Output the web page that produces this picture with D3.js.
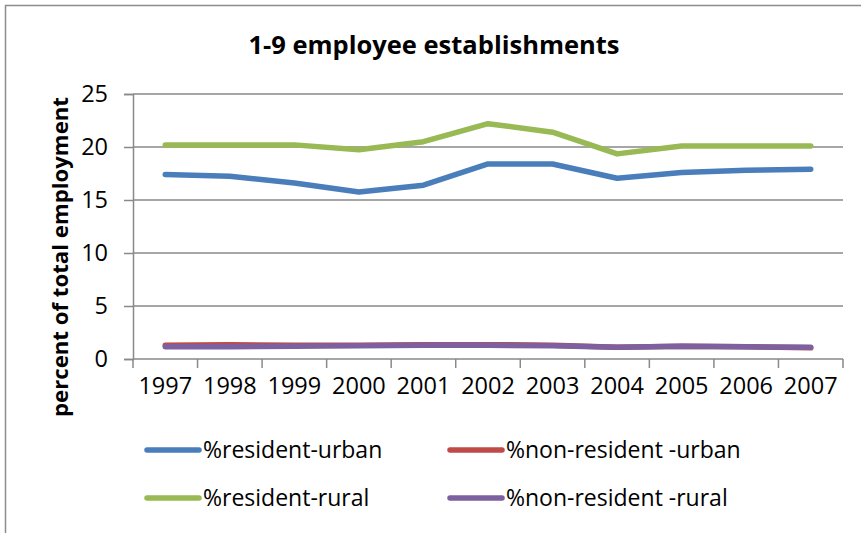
<!DOCTYPE html>
<html>
<head>
<meta charset="utf-8">
<script src="https://cdn.jsdelivr.net/npm/d3@7"></script>
<style>
  body { margin: 0; background: #fff; }
  svg text { font-family: "Open Sans", sans-serif; fill: #000; }
</style>
</head>
<body>
<div id="chart"></div>
<script>
// years along the x axis
const years = ["1997", "1998", "1999", "2000", "2001", "2002", "2003", "2004", "2005", "2006", "2007"];
const yTicks = [0, 5, 10, 15, 20, 25];

// series values (percent of total employment)
const residentUrban    = [17.4, 17.25, 16.6, 15.75, 16.4, 18.4, 18.4, 17.05, 17.6, 17.8, 17.9];
const nonResidentUrban = [1.3, 1.35, 1.3, 1.3, 1.35, 1.35, 1.3, 1.1, 1.2, 1.15, 1.05];
const residentRural    = [20.2, 20.2, 20.2, 19.75, 20.5, 22.2, 21.4, 19.35, 20.1, 20.1, 20.1];
const nonResidentRural = [1.15, 1.15, 1.2, 1.25, 1.3, 1.3, 1.25, 1.1, 1.2, 1.15, 1.1];

const seriesNames = ["%resident-urban", "%non-resident -urban", "%resident-rural", "%non-resident -rural"];
const seriesColors = ["#4a7ebb", "#be4b48", "#98b954", "#7d60a0"];
const seriesValues = [residentUrban, nonResidentUrban, residentRural, nonResidentRural];

const W = 861, H = 533;
const MARGIN = { TOP: 94, BOTTOM: 174, LEFT: 133, RIGHT: 18 };
const WIDTH = W - MARGIN.LEFT - MARGIN.RIGHT;
const HEIGHT = H - MARGIN.TOP - MARGIN.BOTTOM;

const svg = d3.select("#chart").append("svg")
    .attr("width", W)
    .attr("height", H);

// chart frame (only top and left edges show in the crop)
svg.append("rect")
    .attr("x", 5.5).attr("y", 5.5)
    .attr("width", W + 20).attr("height", H + 20)
    .attr("fill", "none")
    .attr("stroke", "#8c8c8c")
    .attr("stroke-width", 1.5);

svg.append("text")
    .attr("x", 434)
    .attr("y", 54)
    .attr("text-anchor", "middle")
    .style("font-weight", "bold")
    .style("font-size", "25.5px")
    .text("1-9 employee establishments");

const g = svg.append("g")
    .attr("transform", `translate(${MARGIN.LEFT}, ${MARGIN.TOP})`);

const x = d3.scaleBand()
    .domain(years)
    .range([0, WIDTH]);

const y = d3.scaleLinear()
    .domain([0, 25])
    .range([HEIGHT, 0]);

// gridlines
g.append("g")
  .selectAll("line")
  .data(yTicks.filter(d => d > 0))
  .join("line")
    .attr("x1", 0).attr("x2", WIDTH)
    .attr("y1", d => y(d)).attr("y2", d => y(d))
    .attr("stroke", "#898989")
    .attr("stroke-width", 1.5);

// y axis
const yAxis = g.append("g")
    .call(d3.axisLeft(y).tickValues(yTicks).tickSize(9).tickPadding(16));
yAxis.selectAll("text").style("font-size", "23.5px");

// x axis: ticks at the category boundaries
const xAxis = g.append("g")
    .attr("transform", `translate(0, ${HEIGHT})`)
    .call(d3.axisBottom(x).tickSize(0).tickPadding(18));
xAxis.select(".domain").remove();
xAxis.selectAll("text").style("font-size", "23.5px");
xAxis.append("line")
    .attr("x1", 0).attr("x2", WIDTH)
    .attr("stroke", "#898989").attr("stroke-width", 1.5);
xAxis.selectAll(".bound")
  .data(years.map(d => x(d)).concat([WIDTH]))
  .join("line")
    .attr("class", "bound")
    .attr("x1", d => d).attr("x2", d => d)
    .attr("y1", 0).attr("y2", 9)
    .attr("stroke", "#898989").attr("stroke-width", 1.5);

g.selectAll(".domain, .tick line").attr("stroke", "#898989").attr("stroke-width", 1.5);

// lines
const line = d3.line()
    .x((d, i) => x(years[i]) + x.bandwidth() / 2)
    .y(d => y(d));

g.selectAll(".series")
  .data(seriesValues)
  .join("path")
    .attr("class", "series")
    .attr("d", line)
    .attr("fill", "none")
    .attr("stroke", (d, i) => seriesColors[i])
    .attr("stroke-width", 5.5)
    .attr("stroke-linecap", "round")
    .attr("stroke-linejoin", "round");

// y axis title
svg.append("text")
    .attr("transform", "translate(68, 257) rotate(-90)")
    .attr("text-anchor", "middle")
    .style("font-weight", "bold")
    .style("font-size", "22.2px")
    .text("percent of total employment");

// legend, two columns
const legendPos = [[147, 450], [450, 450], [147, 498], [450, 498]];
const legend = svg.selectAll(".legend")
  .data(seriesNames)
  .join("g")
    .attr("class", "legend")
    .attr("transform", (d, i) => `translate(${legendPos[i][0]}, ${legendPos[i][1]})`);

legend.append("line")
    .attr("x1", 0).attr("x2", 52)
    .attr("y1", 0).attr("y2", 0)
    .attr("stroke", (d, i) => seriesColors[i])
    .attr("stroke-width", 5.5)
    .attr("stroke-linecap", "round");

legend.append("text")
    .attr("x", 56)
    .attr("y", 0)
    .attr("dy", "0.35em")
    .style("font-size", "23px")
    .text(d => d);
</script>
</body>
</html>
